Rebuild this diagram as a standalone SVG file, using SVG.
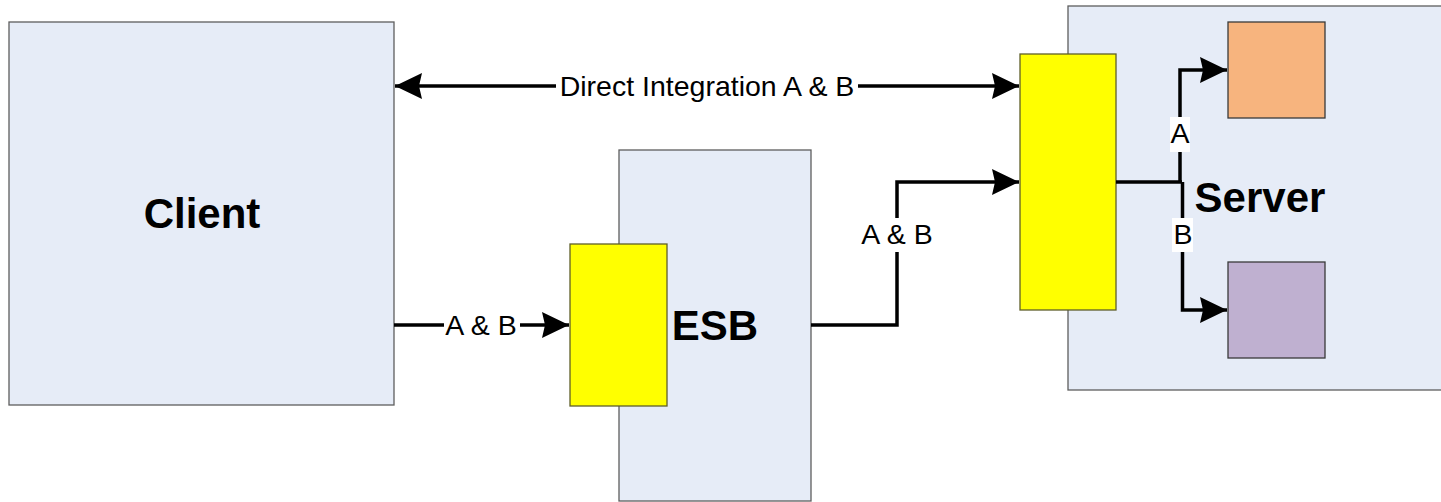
<svg xmlns="http://www.w3.org/2000/svg" width="1441" height="502" viewBox="0 0 1441 502">
  <style>
    .box { fill: #E6ECF7; stroke: #5E5E5E; stroke-width: 1.3; }
    .port { fill: #FFFF00; stroke: #5F5F2A; stroke-width: 1.3; }
    .inner { stroke: #3A3A3A; stroke-width: 1.3; }
    .title { font-family: "Liberation Sans", Arial, sans-serif; font-weight: bold; font-size: 42px; fill: #000; text-anchor: middle; }
    .lbl { font-family: "Liberation Sans", Arial, sans-serif; font-size: 28.5px; fill: #000; text-anchor: middle; }
    .conn { fill: none; stroke: #000; stroke-width: 3.5; }
    .lblbg { fill: #FFFFFF; }
  </style>
  <defs>
    <marker id="arrow" markerUnits="userSpaceOnUse" markerWidth="34" markerHeight="34" viewBox="-30 -17 34 34" refX="0" refY="0" orient="auto-start-reverse">
      <path d="M0,0 L-27,-13 L-24,0 L-27,13 Z" fill="#000"/>
    </marker>
  </defs>
  <rect width="1441" height="502" fill="#FFFFFF"/>

  <g id="client">
    <rect class="box" x="9" y="22" width="385" height="383"/>
    <text class="title" x="202" y="228">Client</text>
  </g>

  <g id="esb">
    <rect class="box" x="619" y="150" width="192" height="351"/>
    <rect class="port" x="570" y="244" width="97" height="162"/>
    <text class="title" x="715" y="340">ESB</text>
  </g>

  <g id="server">
    <rect class="box" x="1068" y="6" width="380" height="384"/>
    <rect class="port" x="1020" y="54" width="96" height="256"/>
    <rect class="inner" x="1228" y="22" width="97" height="96" fill="#F7B47E"/>
    <rect class="inner" x="1228" y="262" width="97" height="96" fill="#BFB0D0"/>
    <text class="title" x="1260" y="212">Server</text>
  </g>

  <g id="connectors">
    <path class="conn" d="M395,86 L1019,86" marker-start="url(#arrow)" marker-end="url(#arrow)"/>
    <rect class="lblbg" x="556" y="70" width="302" height="32"/>
    <text class="lbl" x="707" y="96">Direct Integration A &amp; B</text>

    <path class="conn" d="M394,325 L569,325" marker-end="url(#arrow)"/>
    <rect class="lblbg" x="444" y="310" width="76" height="32"/>
    <text class="lbl" x="481" y="335">A &amp; B</text>

    <path class="conn" d="M811,325 L897,325 L897,182 L1019,182" marker-end="url(#arrow)"/>
    <rect class="lblbg" x="859" y="218" width="76" height="34"/>
    <text class="lbl" x="897" y="244">A &amp; B</text>

    <path class="conn" d="M1116,182 L1182,182"/>
    <path class="conn" d="M1180,182 L1180,70 L1227,70" marker-end="url(#arrow)"/>
    <path class="conn" d="M1182.5,182 L1182.5,310 L1227,310" marker-end="url(#arrow)"/>
    <rect class="lblbg" x="1170" y="117" width="20" height="35"/>
    <text class="lbl" x="1180" y="143">A</text>
    <rect class="lblbg" x="1172" y="218" width="21" height="34"/>
    <text class="lbl" x="1183" y="244">B</text>
  </g>
</svg>
